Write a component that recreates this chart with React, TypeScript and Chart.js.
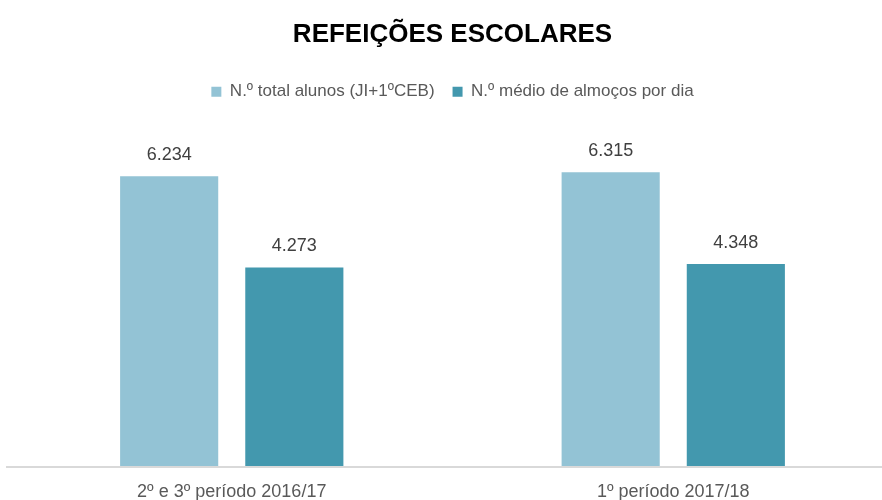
import React, { useEffect, useRef } from "react";
import { Chart, registerables } from "chart.js";

Chart.register(...registerables);

const categories = ["2º e 3º período 2016/17", "1º período 2017/18"];
const seriesNames = ["N.º total alunos (JI+1ºCEB)", "N.º médio de almoços por dia"];
const totalAlunos = [6234, 6315];
const mediaAlmocos = [4273, 4348];
const colors = ["#93C3D5", "#4398AE"];
const FONT = "'Liberation Sans', Arial, sans-serif";

const fmt = (v: number) => {
  const s = Math.round(v).toString();
  return s.replace(/\B(?=(\d{3})+(?!\d))/g, ".");
};

const labelsPlugin = {
  id: "valueLabels",
  afterDatasetsDraw(chart: any) {
    const ctx = chart.ctx;
    ctx.save();
    ctx.font = `18px ${FONT}`;
    ctx.fillStyle = "#404040";
    ctx.textAlign = "center";
    ctx.textBaseline = "bottom";
    chart.data.datasets.forEach((ds: any, i: number) => {
      const meta = chart.getDatasetMeta(i);
      meta.data.forEach((el: any, j: number) => {
        ctx.fillText(fmt(ds.data[j]), el.x, el.y - 12);
      });
    });
    ctx.restore();
  },
};

const axisLinePlugin = {
  id: "axisLine",
  afterDatasetsDraw(chart: any) {
    const ctx = chart.ctx;
    const y = chart.chartArea.bottom + 0.5;
    ctx.save();
    ctx.strokeStyle = "#D9D9D9";
    ctx.lineWidth = 2;
    ctx.beginPath();
    ctx.moveTo(6, y);
    ctx.lineTo(chart.width, y);
    ctx.stroke();
    ctx.restore();
  },
};

export default function App() {
  const ref = useRef<HTMLCanvasElement>(null);
  useEffect(() => {
    if (!ref.current) return;
    const chart = new Chart(ref.current, {
      type: "bar",
      data: {
        labels: categories,
        datasets: [
          { label: seriesNames[0], data: totalAlunos, backgroundColor: colors[0] },
          { label: seriesNames[1], data: mediaAlmocos, backgroundColor: colors[1] },
        ],
      },
      options: {
        animation: false,
        responsive: false,
        maintainAspectRatio: false,
        layout: { padding: { left: 11, right: 0, top: 0, bottom: 0 } },
        datasets: {
          bar: { categoryPercentage: 0.567, barPercentage: 0.784 },
        },
        plugins: {
          title: {
            display: true,
            text: "REFEIÇÕES ESCOLARES",
            color: "#000000",
            font: { family: FONT, size: 26, weight: "bold" },
            padding: { top: 19, bottom: 15 },
          },
          legend: {
            display: true,
            position: "top",
            labels: {
              boxWidth: 10,
              boxHeight: 10,
              color: "#595959",
              padding: 18,
              font: { family: FONT, size: 17 },
            },
          },
          tooltip: { enabled: false },
        },
        scales: {
          x: {
            grid: { display: false, drawTicks: false },
            border: { display: false },
            ticks: { color: "#595959", font: { family: FONT, size: 18 }, padding: 15 },
          },
          y: {
            display: false,
            min: 0,
            max: 7650,
          },
        },
      },
      plugins: [labelsPlugin, axisLinePlugin],
    });
    return () => chart.destroy();
  }, []);
  return (
    <div style={{ position: "fixed", left: 0, top: 0, width: 882, height: 500, overflow: "hidden", background: "#fff" }}>
      <canvas ref={ref} width={894} height={518} style={{ width: 894, height: 518 }} />
    </div>
  );
}
